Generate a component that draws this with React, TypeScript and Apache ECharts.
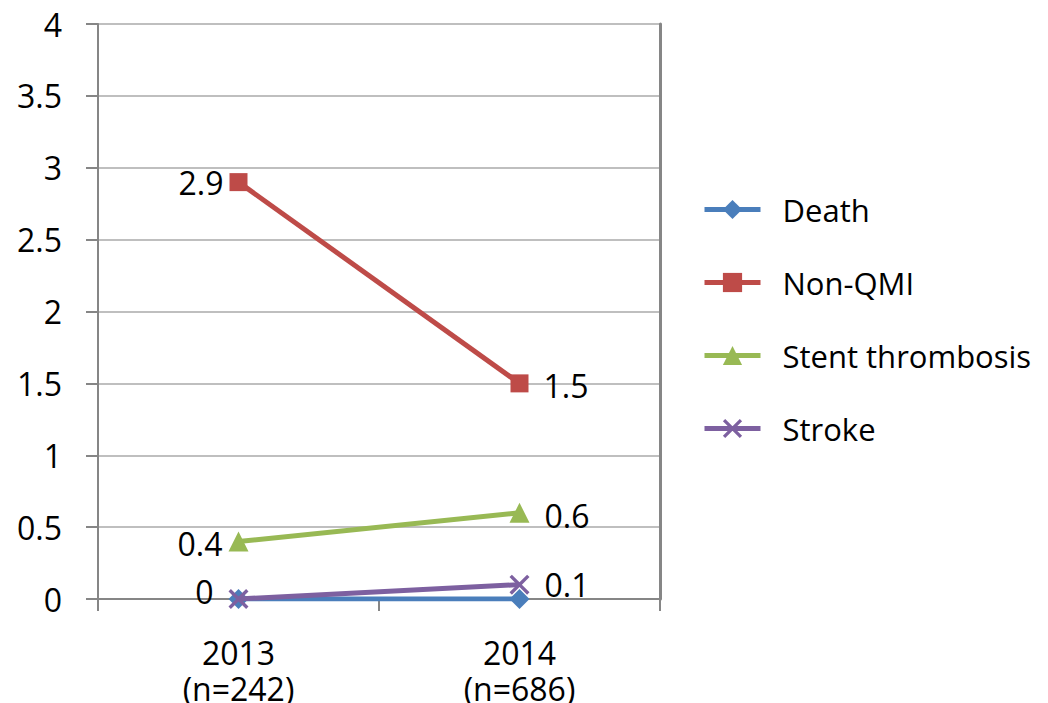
import React, { useEffect, useRef } from "react";
import * as echarts from "echarts";

const categories = ["2013\n(n=242)", "2014\n(n=686)"];
const death = [0, 0];
const nonQmi = [2.9, 1.5];
const stent = [0.4, 0.6];
const stroke = [0, 0.1];
const yTicks = { min: 0, max: 4, interval: 0.5 };

const FONT = "Open Sans";
const FS = 32;
const X_PATH =
  "path://M0,1.2L1.2,0L5,3.8L8.8,0L10,1.2L6.2,5L10,8.8L8.8,10L5,6.2L1.2,10L0,8.8L3.8,5Z";

export default function App() {
  const ref = useRef<HTMLDivElement>(null);
  useEffect(() => {
    document.body.style.margin = "0";
    if (!ref.current) return;
    const chart = echarts.init(ref.current, null, { renderer: "svg" });
    const labelStyle = { color: "#000", fontSize: FS, fontFamily: FONT };
    const mkData = (vals: number[], show: boolean[], offsets?: number[][]) =>
      vals.map((v, i) => ({
        value: v,
        label: {
          show: show[i],
          position: i === 0 ? "left" : "right",
          distance: i === 0 ? 6 : 15,
          offset: offsets ? offsets[i] : [0, 0],
          ...labelStyle,
        },
      }));
    chart.setOption({
      animation: false,
      grid: {
        left: 98,
        right: 388,
        top: 24,
        bottom: 104,
        containLabel: false,
        outerBoundsMode: "none",
      },
      legend: {
        orient: "vertical",
        left: 697,
        top: 189,
        itemWidth: 56,
        itemHeight: 24,
        itemGap: 42,
        lineStyle: { width: 5 },
        textStyle: { fontSize: 31, fontFamily: FONT, color: "#000", padding: [0, 0, 0, 17] },
        data: ["Death", "Non-QMI", "Stent thrombosis", "Stroke"],
      },
      xAxis: {
        type: "category",
        data: categories,
        boundaryGap: true,
        axisLine: { lineStyle: { color: "#868686", width: 2 } },
        axisTick: { show: true, length: 12, lineStyle: { color: "#868686", width: 2 } },
        axisLabel: {
          color: "#000",
          fontSize: FS,
          fontFamily: FONT,
          lineHeight: 36,
          margin: 35,
        },
      },
      yAxis: [
        {
          type: "value",
          ...yTicks,
          axisLine: { show: true, lineStyle: { color: "#868686", width: 2 } },
          axisTick: { show: true, length: 12, lineStyle: { color: "#868686", width: 2 } },
          splitLine: { lineStyle: { color: "#BFBFBF", width: 2 } },
          axisLabel: { color: "#000", fontSize: FS, fontFamily: FONT, margin: 36 },
        },
        {
          type: "value",
          position: "right",
          ...yTicks,
          axisLine: { show: true, lineStyle: { color: "#868686", width: 3 } },
          axisTick: { show: false },
          axisLabel: { show: false },
          splitLine: { show: false },
        },
      ],
      series: [
        {
          name: "Death",
          type: "line",
          data: mkData(death, [true, false], [[-9, -8], [0, 0]]),
          color: "#4A7EBB",
          lineStyle: { width: 5 },
          symbol: "diamond",
          symbolSize: 20,
          z: 2,
        },
        {
          name: "Non-QMI",
          type: "line",
          data: mkData(nonQmi, [true, true], [[0, 0], [0, 2]]),
          color: "#BE4B48",
          lineStyle: { width: 5 },
          symbol: "rect",
          symbolSize: 18,
        },
        {
          name: "Stent thrombosis",
          type: "line",
          data: mkData(stent, [true, true], [[0, 2], [0, 3]]),
          color: "#98B954",
          lineStyle: { width: 5 },
          symbol: "triangle",
          symbolSize: 20,
        },
        {
          name: "Stroke",
          type: "line",
          data: mkData(stroke, [false, true]),
          color: "#7D60A0",
          lineStyle: { width: 5 },
          symbol: X_PATH,
          symbolSize: 20,
          z: 3,
        },
      ],
    });
    return () => chart.dispose();
  }, []);
  return <div ref={ref} style={{ width: 1048, height: 703 }} />;
}
